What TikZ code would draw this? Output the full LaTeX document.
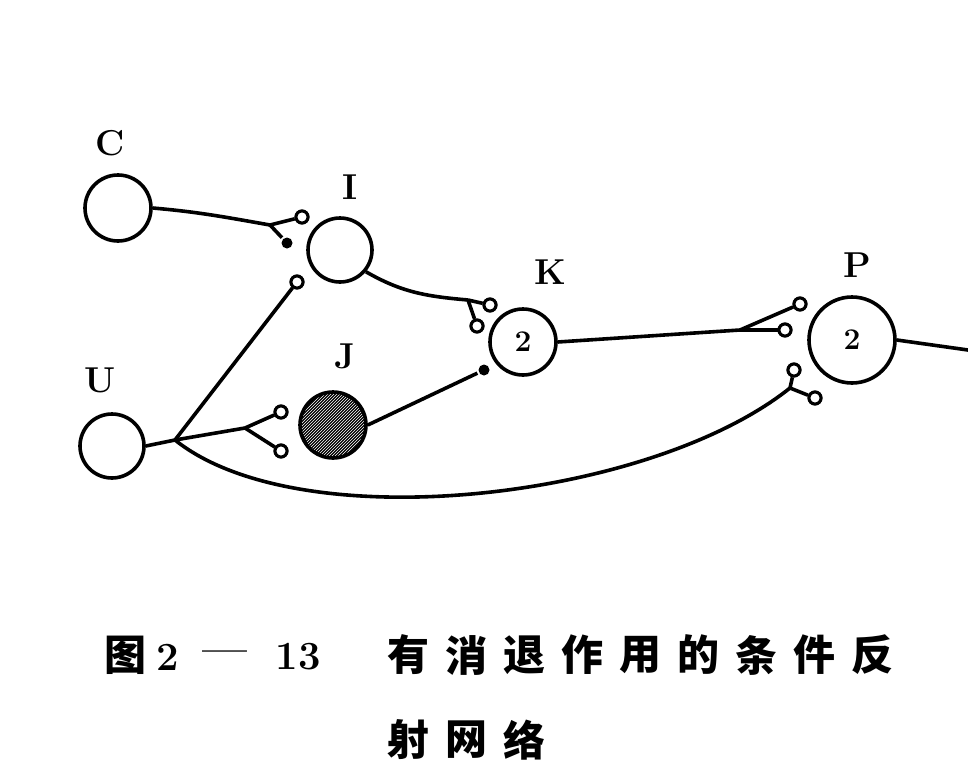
\documentclass[tikz,border=0pt]{standalone}
\usepackage{fontspec}
\newfontfamily\cjk{Noto Sans CJK SC}
\usetikzlibrary{patterns}
\begin{document}
\begin{tikzpicture}[x=1pt,y=-1pt,line width=3.6pt,
 neu/.style={circle,draw,line width=3.6pt,inner sep=0pt,font=\bfseries\fontsize{30}{30}\selectfont},
 lab/.style={font=\bfseries\fontsize{36}{36}\selectfont},
 ot/.style={circle,draw,line width=3pt,fill=white,minimum size=12pt,inner sep=0pt},
 ft/.style={circle,fill,minimum size=11pt,inner sep=0pt},
 captxt/.style={font=\cjk\bfseries\fontsize{42}{42}\selectfont},
 capnum/.style={font=\bfseries\fontsize{40}{40}\selectfont}]
\useasboundingbox (0,0) rectangle (968,776);
\node[neu,minimum size=66pt] (C) at (118,208) {};
\node[neu,minimum size=64pt] (I) at (340,250) {};
\node[neu,minimum size=66pt] (K) at (523,342) {2};
\node[neu,minimum size=66pt,preaction={fill=black},pattern=north east lines,pattern color=white] (J) at (333,425) {};
\node[neu,minimum size=64pt] (U) at (112,446) {};
\node[neu,minimum size=86pt] (P) at (852,340) {2};
\node[lab] (lC) at (110,143) {C};
\node[lab] (lI) at (350,187) {I};
\node[lab] (lK) at (550,272) {K};
\node[lab] (lJ) at (345,356) {J};
\node[lab] (lU) at (100,380) {U};
\node[lab] (lP) at (857,265) {P};
\coordinate (bC) at (270,225);
\coordinate (bI) at (468,300);
\coordinate (bU) at (175,440);
\coordinate (bU2) at (245,428);
\coordinate (bK) at (740,330);
\coordinate (bP) at (790,388);
\coordinate (out) at (968,350);
\node[ot] (tC1) at (302,217) {};
\node[ft] (tC2) at (287,243) {};
\node[ot] (tU1) at (297,282) {};
\node[ot] (tI1) at (490,305) {};
\node[ot] (tI2) at (477,326) {};
\node[ot] (tU2) at (281,412) {};
\node[ot] (tU3) at (281,451) {};
\node[ft] (tJ) at (484,370) {};
\node[ot] (tK1) at (800,304) {};
\node[ot] (tK2) at (785,330) {};
\node[ot] (tU4) at (794,370) {};
\node[ot] (tU5) at (815,398) {};
\draw (C.east) to[out=-5,in=170] (bC);
\draw (bC) -- (tC1); \draw (bC) -- (tC2);
\draw (I.-40) to[out=-30,in=175] (bI);
\draw (bI) -- (tI1); \draw (bI) -- (tI2);
\draw (U.east) -- (bU);
\draw (bU) -- (tU1);
\draw (bU) -- (bU2); \draw (bU2) -- (tU2); \draw (bU2) -- (tU3);
\draw (bU) .. controls (300,540) and (650,500) .. (bP);
\draw (bP) -- (tU4); \draw (bP) -- (tU5);
\draw (J.east) -- (tJ);
\draw (K.east) -- (bK);
\draw (bK) -- (tK1); \draw (bK) -- (tK2);
\draw (P.east) -- (out);
\foreach \n in {tC1,tU1,tI1,tI2,tU2,tU3,tK1,tK2,tU4,tU5} \node[ot] at (\n) {};
\node[captxt] (c0) at (125,655) {图};
\node[capnum] (n1) at (168,657) {2};
\node[capnum] (n2) at (225,657) {—};
\node[capnum] (n3) at (298,657) {13};
\foreach \ch [count=\i] in {有,消,退,作,用,的,条,件,反}
  \node[captxt] (c\i) at ({350+58*\i},655) {\ch};
\foreach \ch [count=\i] in {射,网,络}
  \node[captxt] (d\i) at ({350+58*\i},740) {\ch};
\end{tikzpicture}
\end{document}
